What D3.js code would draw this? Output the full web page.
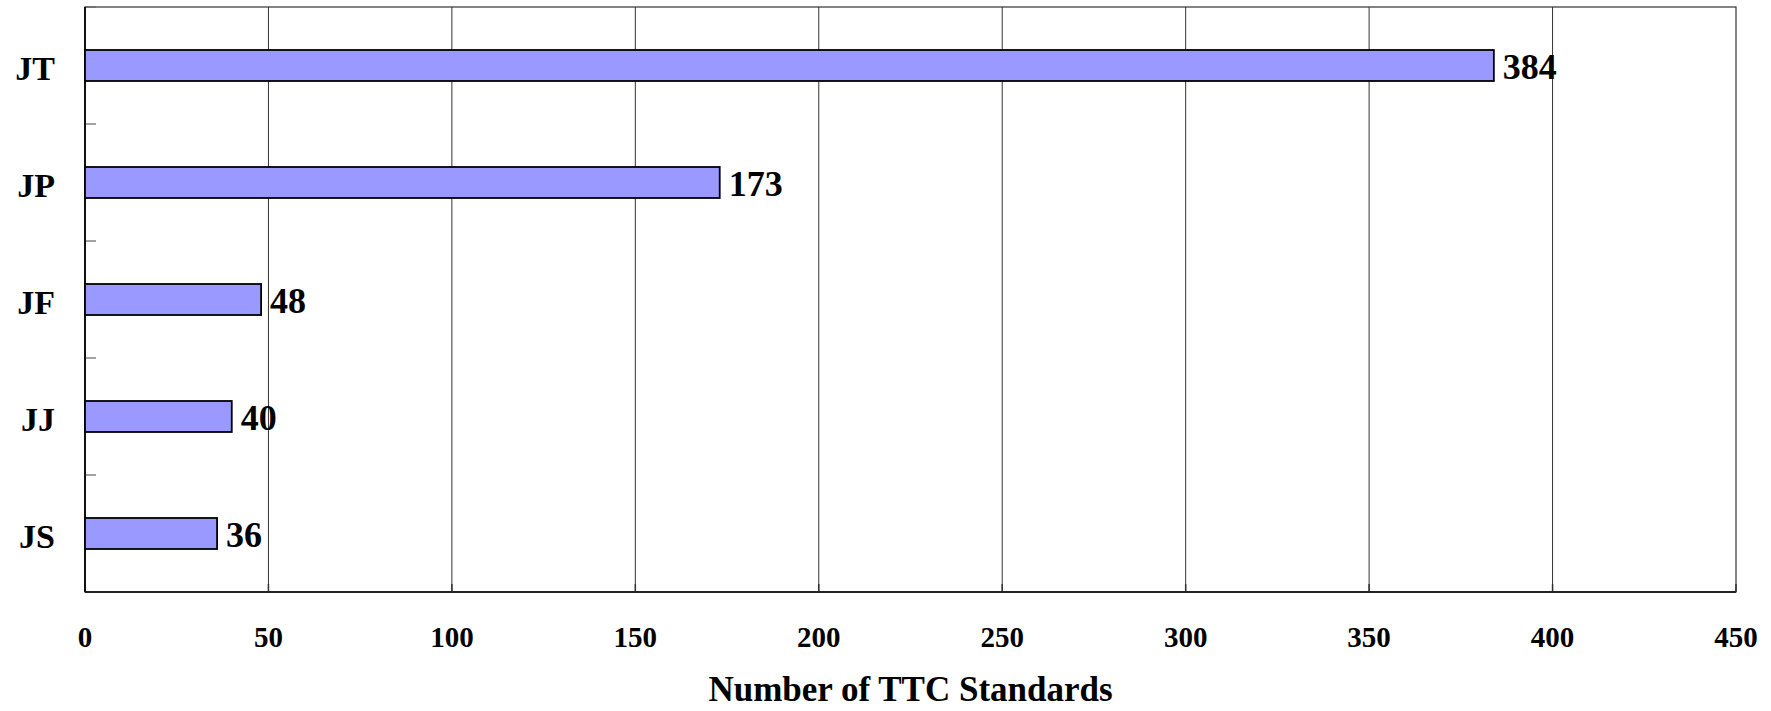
<!DOCTYPE html>
<html>
<head>
<meta charset="utf-8">
<script src="https://cdn.jsdelivr.net/npm/d3@7"></script>
<style>
    body { margin: 0; background: #fff; }
    text { font-family: "Liberation Serif", "Times New Roman", serif; font-weight: bold; fill: #000; }
</style>
</head>
<body>
<div id="chart"></div>
<script>
// categories top to bottom, with counts
var categories = ["JT", "JP", "JF", "JJ", "JS"];
var counts = [384, 173, 48, 40, 36];
var xTicks = [0, 50, 100, 150, 200, 250, 300, 350, 400, 450];
var axisTitle = "Number of TTC Standards";

var data = categories.map(function(c, i){ return {name: c, value: counts[i]}; });

var margin = {top: 7, right: 35, bottom: 119, left: 85};
var width = 1771 - margin.left - margin.right,
    height = 711 - margin.top - margin.bottom;

var svg = d3.select("#chart").append("svg")
    .attr("width", 1771)
    .attr("height", 711);

var g = svg.append("g")
    .attr("transform", "translate(" + margin.left + "," + margin.top + ")");

var x = d3.scaleLinear().domain([0, 450]).range([0, width]);
var y = d3.scaleBand().domain(categories).range([0, height]).paddingInner(0).paddingOuter(0);

var barH = y.bandwidth() * 0.265;

// vertical gridlines
g.selectAll(".grid")
    .data(xTicks.slice(1, -1))
    .enter().append("line")
    .attr("x1", function(d){ return x(d); })
    .attr("x2", function(d){ return x(d); })
    .attr("y1", 0)
    .attr("y2", height)
    .attr("stroke", "#333")
    .attr("stroke-width", 1);

// plot border
g.append("rect")
    .attr("x", 0).attr("y", 0)
    .attr("width", width).attr("height", height)
    .attr("fill", "none")
    .attr("stroke", "#333")
    .attr("stroke-width", 1.2);

// y tick marks on the band boundaries
var bounds = d3.range(categories.length + 1).map(function(i){ return i * y.step(); });
g.selectAll(".ytick")
    .data(bounds)
    .enter().append("line")
    .attr("x1", 0).attr("x2", 11)
    .attr("y1", function(d){ return d; })
    .attr("y2", function(d){ return d; })
    .attr("stroke", "#666")
    .attr("stroke-width", 1.2);

// x tick marks
g.selectAll(".xtick")
    .data(xTicks)
    .enter().append("line")
    .attr("x1", function(d){ return x(d); })
    .attr("x2", function(d){ return x(d); })
    .attr("y1", height - 8)
    .attr("y2", height)
    .attr("stroke", "#333")
    .attr("stroke-width", 1.5);

// axes lines
g.append("line")
    .attr("x1", 0).attr("x2", width)
    .attr("y1", height).attr("y2", height)
    .attr("stroke", "#222").attr("stroke-width", 2);
g.append("line")
    .attr("x1", 0).attr("x2", 0)
    .attr("y1", 0).attr("y2", height)
    .attr("stroke", "#111").attr("stroke-width", 2);

// bars
g.selectAll(".bar")
    .data(data)
    .enter().append("rect")
    .attr("x", x(0))
    .attr("y", function(d){ return y(d.name) + y.bandwidth() / 2 - barH / 2; })
    .attr("width", function(d){ return x(d.value) - x(0); })
    .attr("height", barH)
    .attr("fill", "#9999ff")
    .attr("stroke", "#000")
    .attr("stroke-width", 1.8);

// value labels
g.selectAll(".val")
    .data(data)
    .enter().append("text")
    .attr("x", function(d){ return x(d.value) + 9; })
    .attr("y", function(d){ return y(d.name) + y.bandwidth() / 2 + 1; })
    .attr("dy", "0.36em")
    .style("font-size", "36px")
    .text(function(d){ return d.value; });

// category labels
g.selectAll(".cat")
    .data(data)
    .enter().append("text")
    .attr("x", -30)
    .attr("y", function(d){ return y(d.name) + y.bandwidth() / 2 + 2; })
    .attr("dy", "0.36em")
    .attr("text-anchor", "end")
    .style("font-size", "34px")
    .text(function(d){ return d.name; });

// x tick labels
g.selectAll(".xlab")
    .data(xTicks)
    .enter().append("text")
    .attr("x", function(d){ return x(d); })
    .attr("y", height + 55)
    .attr("text-anchor", "middle")
    .style("font-size", "29px")
    .text(function(d){ return d; });

// axis title
g.append("text")
    .attr("x", width / 2)
    .attr("y", height + 109)
    .attr("text-anchor", "middle")
    .style("font-size", "35px")
    .text(axisTitle);
</script>
</body>
</html>
